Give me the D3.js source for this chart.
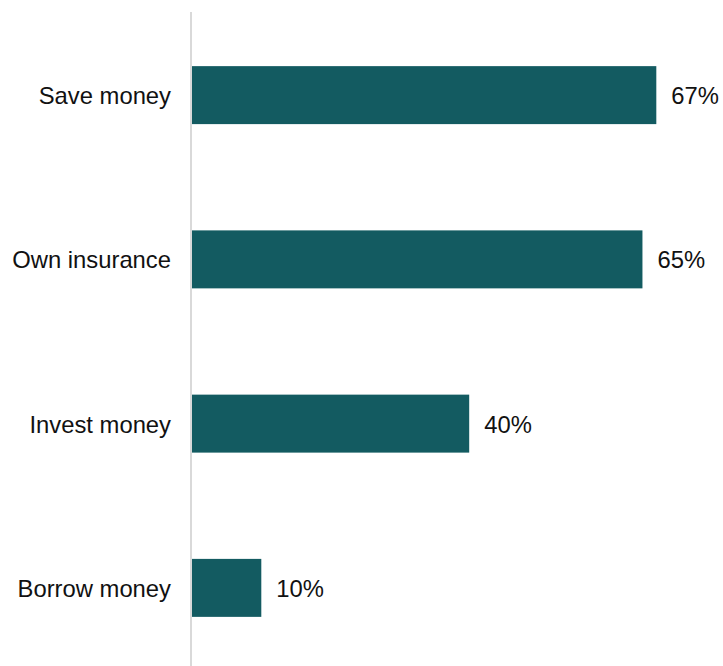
<!DOCTYPE html>
<html>
<head>
<meta charset="utf-8">
<script src="https://cdn.jsdelivr.net/npm/d3@7"></script>
<style>
  body { margin: 0; background: #fff; }
  text { font-family: "Liberation Sans", Arial, sans-serif; fill: #111; }
</style>
</head>
<body>
<div id="chart"></div>
<script>
// data
var categories = ["Save money", "Own insurance", "Invest money", "Borrow money"];
var values = [67, 65, 40, 10];

var width = 723, height = 666;
var left = 192;

var svg = d3.select("#chart").append("svg")
    .attr("width", width)
    .attr("height", height);

var x = d3.scaleLinear()
    .domain([0, 100])
    .range([left, left + 693]);

var y = d3.scaleBand()
    .domain(categories)
    .range([13, 670])
    .paddingInner(0.647)
    .paddingOuter(0.3235);

// bars
svg.selectAll("rect.bar")
    .data(values)
  .enter().append("rect")
    .attr("class", "bar")
    .attr("x", x(0))
    .attr("y", function(d, i) { return y(categories[i]); })
    .attr("width", function(d) { return x(d) - x(0); })
    .attr("height", y.bandwidth())
    .attr("fill", "#135b61");

// axis line
svg.append("line")
    .attr("x1", left - 1).attr("x2", left - 1)
    .attr("y1", 12).attr("y2", height)
    .attr("stroke", "#d9d9d9")
    .attr("stroke-width", 2);

// category labels
svg.selectAll("text.cat")
    .data(categories)
  .enter().append("text")
    .attr("class", "cat")
    .attr("x", left - 21)
    .attr("y", function(d) { return y(d) + y.bandwidth() / 2; })
    .attr("dy", "0.38em")
    .attr("text-anchor", "end")
    .style("font-size", "23.8px")
    .text(function(d) { return d; });

// value labels
svg.selectAll("text.val")
    .data(values)
  .enter().append("text")
    .attr("class", "val")
    .attr("x", function(d) { return x(d) + 15; })
    .attr("y", function(d, i) { return y(categories[i]) + y.bandwidth() / 2; })
    .attr("dy", "0.38em")
    .style("font-size", "23.8px")
    .text(function(d) { return d + "%"; });
</script>
</body>
</html>
